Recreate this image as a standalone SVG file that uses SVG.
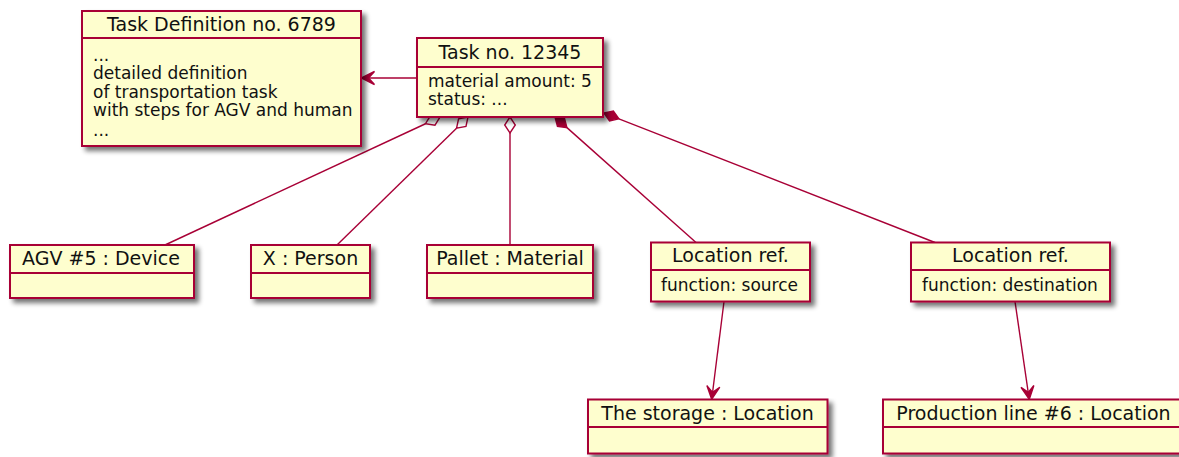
<svg xmlns="http://www.w3.org/2000/svg" width="1179" height="457" viewBox="0 0 1179 457">
<style>
.box{fill:#FEFECE;stroke:#A80036;stroke-width:2;filter:url(#sh)}
.div{stroke:#A80036;stroke-width:1.8}
.t{font-family:"DejaVu Sans",Verdana,sans-serif;font-size:19px;fill:#111;text-anchor:middle}
.b{font-family:"DejaVu Sans",Verdana,sans-serif;font-size:17px;fill:#111}
.ln{stroke:#A80036;stroke-width:1.4;fill:none}
.hol{fill:#FFFFFF;stroke:#A80036;stroke-width:1.4}
.fil{fill:#A80036;stroke:#A80036;stroke-width:1.4}
</style>
<defs>
<filter id="sh" x="-10%" y="-10%" width="130%" height="140%">
<feGaussianBlur in="SourceAlpha" stdDeviation="2.5"/>
<feOffset dx="4" dy="4" result="o"/>
<feComponentTransfer><feFuncA type="linear" slope="0.55"/></feComponentTransfer>
<feMerge><feMergeNode/><feMergeNode in="SourceGraphic"/></feMerge>
</filter>
</defs>
<rect width="1179" height="457" fill="#FFFFFF"/>

<g id="connectors">
<line class="ln" x1="417" y1="78" x2="364" y2="78"/>
<polygon class="fil" points="361.5,78 374.5,71.5 368.5,78 374.5,84.5"/>
<line class="ln" x1="425.5" y1="123.75" x2="165" y2="245"/>
<polygon class="hol" points="440,117 430.51,115.57 425.49,123.75 434.98,125.18"/>
<line class="ln" x1="456.56" y1="128.18" x2="337" y2="245"/>
<polygon class="hol" points="468,117 458.58,118.8 456.56,128.18 465.98,126.38"/>
<line class="ln" x1="510" y1="133" x2="510" y2="245"/>
<polygon class="hol" points="510,117 504.7,125 510,133 515.3,125"/>
<line class="ln" x1="566.95" y1="127.64" x2="696" y2="242.5"/>
<polygon class="fil" points="555,117 557.45,126.28 566.95,127.64 564.5,118.36"/>
<line class="ln" x1="618.9" y1="118.83" x2="935" y2="242.5"/>
<polygon class="fil" points="604,113 609.52,120.85 618.9,118.83 613.38,110.98"/>
<line class="ln" x1="724" y1="301.5" x2="712.5" y2="393"/>
<polygon class="fil" points="711.7,399.3 706.88,385.59 712.58,392.36 719.78,387.22"/>
<line class="ln" x1="1015" y1="301.5" x2="1028.3" y2="393"/>
<polygon class="fil" points="1029.3,399.3 1020.99,387.38 1028.29,392.37 1033.85,385.5"/>
</g>

<g id="taskdef">
<rect class="box" x="82" y="11" width="279" height="135"/>
<line class="div" x1="82" y1="38" x2="361" y2="38"/>
<text class="t" x="221.5" y="31">Task Definition no. 6789</text>
<text class="b" x="93" y="61">...</text>
<text class="b" x="93" y="79">detailed definition</text>
<text class="b" x="93" y="97.5">of transportation task</text>
<text class="b" x="93" y="115.5">with steps for AGV and human</text>
<text class="b" x="93" y="136">...</text>
</g>

<g id="task">
<rect class="box" x="417" y="38" width="186" height="79"/>
<line class="div" x1="417" y1="67" x2="603" y2="67"/>
<text class="t" x="510" y="59">Task no. 12345</text>
<text class="b" x="428" y="87">material amount: 5</text>
<text class="b" x="428" y="105">status: ...</text>
</g>

<g id="agv">
<rect class="box" x="10" y="245" width="184" height="53"/>
<line class="div" x1="10" y1="273" x2="194" y2="273"/>
<text class="t" x="101" y="265">AGV #5 : Device</text>
</g>

<g id="person">
<rect class="box" x="251" y="245" width="119" height="53"/>
<line class="div" x1="251" y1="273" x2="370" y2="273"/>
<text class="t" x="310.5" y="265">X : Person</text>
</g>

<g id="pallet">
<rect class="box" x="427" y="245" width="166" height="53"/>
<line class="div" x1="427" y1="273" x2="593" y2="273"/>
<text class="t" x="510" y="265">Pallet : Material</text>
</g>

<g id="locsrc">
<rect class="box" x="651" y="242.5" width="159" height="59"/>
<line class="div" x1="651" y1="270" x2="810" y2="270"/>
<text class="t" x="730.5" y="262">Location ref.</text>
<text class="b" x="661" y="291">function: source</text>
</g>

<g id="locdst">
<rect class="box" x="911" y="242.5" width="199" height="59"/>
<line class="div" x1="911" y1="270" x2="1110" y2="270"/>
<text class="t" x="1010.5" y="262">Location ref.</text>
<text class="b" x="922" y="291">function: destination</text>
</g>

<g id="storage">
<rect class="box" x="588" y="399.5" width="239.5" height="54"/>
<line class="div" x1="588" y1="427" x2="827.5" y2="427"/>
<text class="t" x="707.5" y="419.5">The storage : Location</text>
</g>

<g id="production">
<rect class="box" x="883" y="399.5" width="300" height="54"/>
<line class="div" x1="883" y1="427" x2="1183" y2="427"/>
<text class="t" x="1033.5" y="419.5">Production line #6 : Location</text>
</g>
</svg>
